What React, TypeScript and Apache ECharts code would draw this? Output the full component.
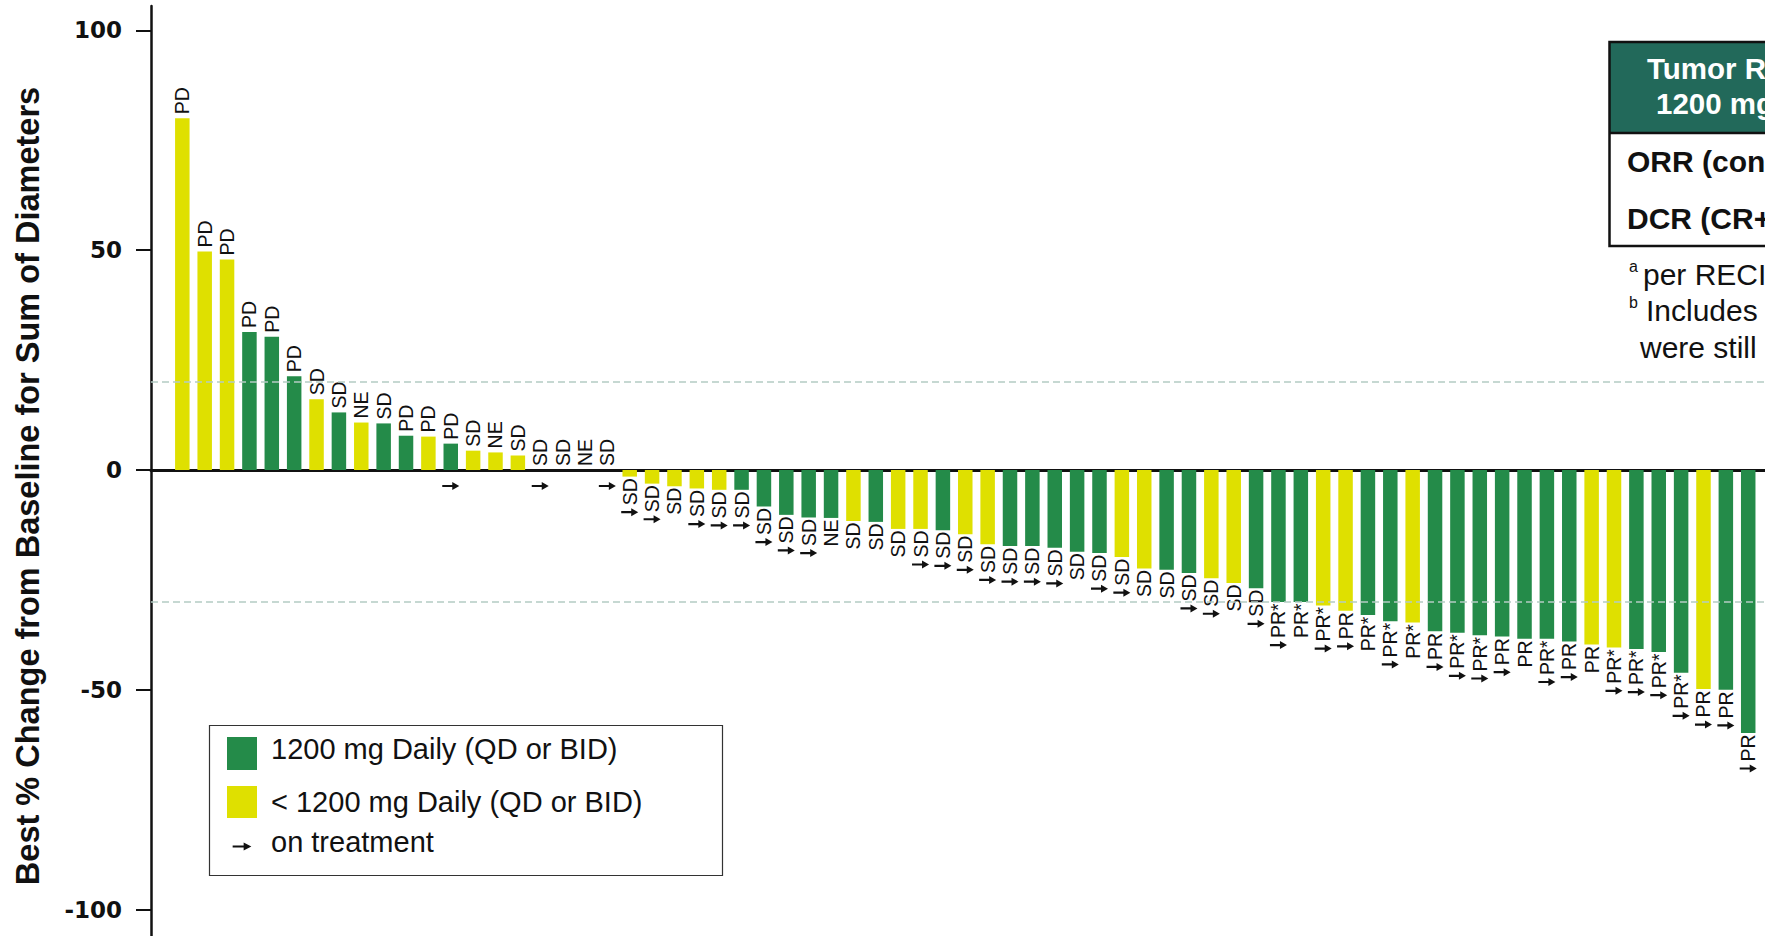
import React, { useEffect, useRef } from 'react';
import * as echarts from 'echarts';

// Per-patient best % change in sum of diameters, sorted from worst to best
const changeValues: number[] = [
  80, 49.7, 47.9, 31.4, 30.3, 21.3, 16.1, 13.1, 10.8, 10.6,
  7.8, 7.6, 6.0, 4.4, 4.0, 3.3, 0, 0, 0, 0,
  -1.5, -3.1, -3.7, -4.2, -4.5, -4.5, -8.3, -10.2, -10.8, -10.9,
  -11.6, -11.8, -13.4, -13.4, -13.7, -14.6, -16.9, -17.3, -17.3, -17.7,
  -18.6, -18.9, -19.8, -22.4, -22.7, -23.4, -24.6, -25.7, -26.9, -30.0,
  -30.0, -30.8, -32.0, -33.0, -34.4, -34.7, -36.7, -37.0, -37.6, -37.9,
  -38.4, -38.4, -39.0, -39.7, -40.4, -40.7, -41.4, -46.1, -49.8, -50.0, -59.8,
];

// Best overall response per patient
const responses: string[] = [
  'PD', 'PD', 'PD', 'PD', 'PD', 'PD', 'SD', 'SD', 'NE', 'SD',
  'PD', 'PD', 'PD', 'SD', 'NE', 'SD', 'SD', 'SD', 'NE', 'SD',
  'SD', 'SD', 'SD', 'SD', 'SD', 'SD', 'SD', 'SD', 'SD', 'NE',
  'SD', 'SD', 'SD', 'SD', 'SD', 'SD', 'SD', 'SD', 'SD', 'SD',
  'SD', 'SD', 'SD', 'SD', 'SD', 'SD', 'SD', 'SD', 'SD', 'PR*',
  'PR*', 'PR*', 'PR', 'PR*', 'PR*', 'PR*', 'PR', 'PR*', 'PR*', 'PR',
  'PR', 'PR*', 'PR', 'PR', 'PR*', 'PR*', 'PR*', 'PR*', 'PR', 'PR', 'PR',
];

// Dose group: F = 1200 mg daily, R = below 1200 mg daily
const doseGroups: string[] = [
  'R', 'R', 'R', 'F', 'F', 'F', 'R', 'F', 'R', 'F',
  'F', 'R', 'F', 'R', 'R', 'R', 'F', 'F', 'F', 'F',
  'R', 'R', 'R', 'R', 'R', 'F', 'F', 'F', 'F', 'F',
  'R', 'F', 'R', 'R', 'F', 'R', 'R', 'F', 'F', 'F',
  'F', 'F', 'R', 'R', 'F', 'F', 'R', 'R', 'F', 'F',
  'F', 'R', 'R', 'F', 'F', 'R', 'F', 'F', 'F', 'F',
  'F', 'F', 'F', 'R', 'R', 'F', 'F', 'F', 'R', 'F', 'F',
];

// Patients still on treatment (index into the arrays above)
const onTreatment: number[] = [
  12, 16, 19, 20, 21, 23, 24, 25, 26, 27, 28, 33, 34, 35, 36, 37, 38, 39,
  41, 42, 45, 46, 48, 49, 51, 52, 54, 56, 57, 58, 59, 61, 62, 64, 65, 66,
  67, 68, 69, 70,
];

const yTicks: number[] = [-100, -50, 0, 50, 100];
const thresholds: number[] = [20, -30];

const legendItems: string[] = ['1200 mg Daily (QD or BID)', '< 1200 mg Daily (QD or BID)', 'on treatment'];
const yAxisTitle = 'Best % Change from Baseline for Sum of Diameters';

const GREEN = '#248B49';
const YELLOW = '#DFE000';
const INK = '#111111';
const LABEL_FONT_SIZE = 19.5;
const LABEL_FONT_FAMILY = '"Liberation Sans", Arial, sans-serif';
const POS_GAP = 4;
const NEG_GAP = 1.5;

// arrow glyph, pointing right, centred on (0, 0)
const ARROW: number[][] = [
  [-8.5, -1.1], [1.5, -1.1], [1.5, -4], [8.5, 0], [1.5, 4], [1.5, 1.1], [-8.5, 1.1],
];

let measureCtx: CanvasRenderingContext2D | null = null;
function labelWidth(text: string): number {
  if (!measureCtx) measureCtx = document.createElement('canvas').getContext('2d');
  if (!measureCtx) return text.length * 13;
  measureCtx.font = `${LABEL_FONT_SIZE}px "Liberation Sans"`;
  return measureCtx.measureText(text).width;
}

function arrowAt(cx: number, cy: number, scale = 1) {
  return {
    type: 'polygon',
    shape: { points: ARROW.map(([dx, dy]) => [cx + dx * scale, cy + dy]) },
    style: { fill: INK },
  };
}

function plainText(text: string, x: number, y: number, size: number, opts: any = {}) {
  return {
    type: 'text',
    x,
    y,
    style: {
      text,
      fontFamily: '"Liberation Sans"',
      fontSize: size,
      fontWeight: opts.bold ? 'bold' : 'normal',
      fill: opts.fill || INK,
      align: 'left',
      verticalAlign: 'middle',
    },
  };
}

export default function App() {
  const ref = useRef<HTMLDivElement>(null);

  useEffect(() => {
    if (!ref.current) return;
    const chart = echarts.init(ref.current, undefined, { renderer: 'svg' });

    const barData = changeValues.map((v, i) => ({
      value: [i, v],
      itemStyle: { color: doseGroups[i] === 'F' ? GREEN : YELLOW },
      label: v >= 0
        ? { position: 'top', align: 'left', distance: POS_GAP }
        : { position: 'bottom', align: 'right', distance: NEG_GAP },
    }));

    const arrowData = onTreatment.map((i) => [i, changeValues[i]]);

    const option: any = {
      animation: false,
      backgroundColor: '#ffffff',
      grid: { left: 151, top: 6, right: 0, bottom: 0, containLabel: false, outerBoundsMode: 'none' },
      xAxis: {
        type: 'value',
        min: -1.4,
        max: 70.75,
        axisLine: { show: true, onZero: true, lineStyle: { color: INK, width: 3 } },
        axisTick: { show: false },
        axisLabel: { show: false },
        splitLine: { show: false },
      },
      yAxis: {
        type: 'value',
        min: -106,
        max: 105.55,
        axisLine: { show: true, onZero: false, lineStyle: { color: INK, width: 2.5 } },
        axisTick: { show: true, length: 15, customValues: yTicks, lineStyle: { color: INK, width: 2 } },
        axisLabel: {
          customValues: yTicks,
          margin: 29,
          color: INK,
          fontFamily: '"DejaVu Sans"',
          fontWeight: 'bold',
          fontSize: 23,
        },
        splitLine: { show: false },
      },
      series: [
        {
          type: 'bar',
          barWidth: 14.5,
          data: barData,
          label: {
            show: true,
            rotate: 90,
            verticalAlign: 'middle',
            color: INK,
            fontFamily: LABEL_FONT_FAMILY,
            fontSize: LABEL_FONT_SIZE,
            formatter: (p: any) => responses[p.dataIndex],
          },
          markLine: {
            silent: true,
            symbol: 'none',
            label: { show: false },
            lineStyle: { color: '#B4CCC4', type: [7, 4], width: 1.5 },
            data: thresholds.map((t) => ({ yAxis: t })),
          },
        },
        {
          type: 'custom',
          clip: false,
          z: 5,
          data: arrowData,
          encode: { x: 0, y: 1 },
          renderItem: (_params: any, api: any) => {
            const i = api.value(0);
            const v = api.value(1);
            const zero = api.coord([i, 0]);
            const end = api.coord([i, v]);
            const cy = v >= 0 ? zero[1] + 16 : end[1] + NEG_GAP + labelWidth(responses[i]) + 7;
            return arrowAt(zero[0], cy);
          },
        },
      ],
      graphic: [
        // axis title
        {
          type: 'text',
          x: 28,
          y: 486,
          rotation: Math.PI / 2,
          style: {
            text: yAxisTitle,
            fontFamily: '"Liberation Sans"',
            fontWeight: 'bold',
            fontSize: 32.5,
            fill: INK,
            align: 'center',
            verticalAlign: 'middle',
          },
        },
        // legend
        {
          type: 'rect',
          shape: { x: 209.5, y: 725.5, width: 513, height: 150 },
          style: { fill: '#ffffff', stroke: '#333333', lineWidth: 1.2 },
        },
        { type: 'rect', shape: { x: 227, y: 737, width: 30, height: 33 }, style: { fill: GREEN } },
        { type: 'rect', shape: { x: 227, y: 786, width: 30, height: 32 }, style: { fill: YELLOW } },
        { type: 'group', children: [arrowAt(242, 846.5, 1.1)] },
        ...legendItems.map((t, k) => plainText(t, 271, [749, 801.5, 842][k], 29)),
        // response summary table
        { type: 'rect', shape: { x: 1609, y: 42, width: 420, height: 91 }, style: { fill: '#22695A' } },
        {
          type: 'rect',
          shape: { x: 1609.5, y: 42, width: 420, height: 204 },
          style: { fill: 'none', stroke: INK, lineWidth: 2.5 },
        },
        { type: 'line', shape: { x1: 1609, y1: 133, x2: 2030, y2: 133 }, style: { stroke: INK, lineWidth: 2.5 } },
        plainText('Tumor Response', 1647, 68, 29.5, { bold: true, fill: '#ffffff' }),
        plainText('1200 mg Daily', 1656, 103, 29.5, { bold: true, fill: '#ffffff' }),
        plainText('ORR (confirmed)', 1627, 161, 30, { bold: true }),
        plainText('DCR (CR+PR+SD)', 1627, 218, 30, { bold: true }),
        plainText('a', 1629, 266, 16),
        plainText('per RECIST v1.1', 1643, 274, 30),
        plainText('b', 1629, 302, 16),
        plainText('Includes patients who', 1646, 310, 30),
        plainText('were still on treatment', 1640, 347, 30),
      ],
    };

    chart.setOption(option);
    return () => chart.dispose();
  }, []);

  return (
    <div
      ref={ref}
      style={{ position: 'fixed', left: 0, top: 0, width: 1765, height: 936, background: '#ffffff' }}
    />
  );
}
